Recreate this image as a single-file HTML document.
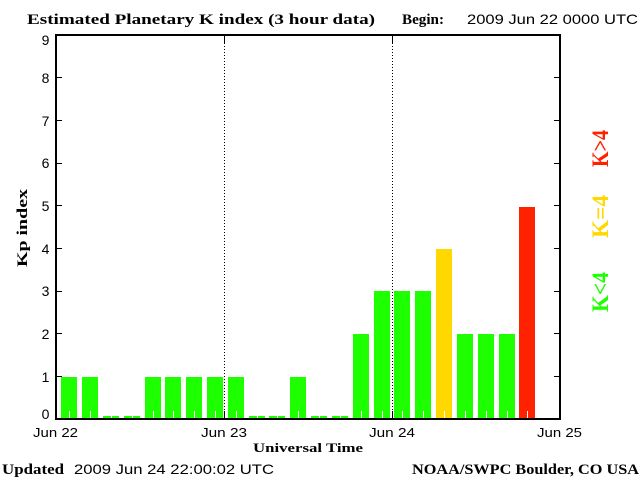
<!DOCTYPE html>
<html><head><meta charset="utf-8"><style>
html,body{margin:0;padding:0;background:#fff;}
svg{display:block;}
.serif{font-family:"Liberation Serif",serif;font-weight:bold;}
.sans{font-family:"Liberation Sans",sans-serif;}
</style></head><body>
<svg width="640" height="480" viewBox="0 0 640 480" xmlns="http://www.w3.org/2000/svg">
<rect x="0" y="0" width="640" height="480" fill="#fff"/>
<!-- header -->
<text class="serif" x="27" y="24" font-size="15" textLength="348" lengthAdjust="spacingAndGlyphs">Estimated Planetary K index (3 hour data)</text>
<text class="serif" x="402" y="24" font-size="15" textLength="42" lengthAdjust="spacingAndGlyphs">Begin:</text>
<text class="sans" x="467" y="24" font-size="14" textLength="171" lengthAdjust="spacingAndGlyphs">2009 Jun 22 0000 UTC</text>

<!-- bars -->
<g shape-rendering="crispEdges">
<rect x="61" y="377" width="16" height="41" fill="#1eff00"/>
<rect x="82" y="377" width="16" height="41" fill="#1eff00"/>
<rect x="103" y="416" width="16" height="2" fill="#1eff00"/>
<rect x="124" y="416" width="16" height="2" fill="#1eff00"/>
<rect x="145" y="377" width="16" height="41" fill="#1eff00"/>
<rect x="165" y="377" width="16" height="41" fill="#1eff00"/>
<rect x="186" y="377" width="16" height="41" fill="#1eff00"/>
<rect x="207" y="377" width="16" height="41" fill="#1eff00"/>
<rect x="228" y="377" width="16" height="41" fill="#1eff00"/>
<rect x="249" y="416" width="16" height="2" fill="#1eff00"/>
<rect x="269" y="416" width="16" height="2" fill="#1eff00"/>
<rect x="290" y="377" width="16" height="41" fill="#1eff00"/>
<rect x="311" y="416" width="16" height="2" fill="#1eff00"/>
<rect x="332" y="416" width="16" height="2" fill="#1eff00"/>
<rect x="353" y="334" width="16" height="84" fill="#1eff00"/>
<rect x="374" y="291" width="16" height="127" fill="#1eff00"/>
<rect x="394" y="291" width="16" height="127" fill="#1eff00"/>
<rect x="415" y="291" width="16" height="127" fill="#1eff00"/>
<rect x="436" y="249" width="16" height="169" fill="#ffd800"/>
<rect x="457" y="334" width="16" height="84" fill="#1eff00"/>
<rect x="478" y="334" width="16" height="84" fill="#1eff00"/>
<rect x="499" y="334" width="16" height="84" fill="#1eff00"/>
<rect x="519" y="207" width="16" height="211" fill="#ff2200"/>
</g>
<!-- white ticks inside bars -->
<g fill="#fff" shape-rendering="crispEdges">
<rect x="69" y="411" width="1" height="7"/>
<rect x="90" y="411" width="1" height="7"/>
<rect x="111" y="411" width="1" height="7"/>
<rect x="132" y="411" width="1" height="7"/>
<rect x="153" y="411" width="1" height="7"/>
<rect x="173" y="411" width="1" height="7"/>
<rect x="194" y="411" width="1" height="7"/>
<rect x="215" y="411" width="1" height="7"/>
<rect x="236" y="411" width="1" height="7"/>
<rect x="257" y="411" width="1" height="7"/>
<rect x="277" y="411" width="1" height="7"/>
<rect x="298" y="411" width="1" height="7"/>
<rect x="319" y="411" width="1" height="7"/>
<rect x="340" y="411" width="1" height="7"/>
<rect x="361" y="411" width="1" height="7"/>
<rect x="382" y="411" width="1" height="7"/>
<rect x="402" y="411" width="1" height="7"/>
<rect x="423" y="411" width="1" height="7"/>
<rect x="444" y="411" width="1" height="7"/>
<rect x="465" y="411" width="1" height="7"/>
<rect x="486" y="411" width="1" height="7"/>
<rect x="507" y="411" width="1" height="7"/>
<rect x="527" y="411" width="1" height="7"/>
</g>

<!-- dotted day lines -->
<g stroke="#000" stroke-width="1" shape-rendering="crispEdges">
<line x1="224.5" y1="43" x2="224.5" y2="411" stroke-dasharray="1,2"/>
<line x1="392.5" y1="43" x2="392.5" y2="411" stroke-dasharray="1,2"/>
<line x1="224.5" y1="35" x2="224.5" y2="43"/>
<line x1="224.5" y1="411" x2="224.5" y2="419"/>
<line x1="392.5" y1="35" x2="392.5" y2="43"/>
<line x1="392.5" y1="411" x2="392.5" y2="419"/>
</g>

<!-- axes -->
<g fill="#000" shape-rendering="crispEdges">
<rect x="55" y="34" width="2" height="386"/>
<rect x="559" y="34" width="2" height="386"/>
<rect x="55" y="34" width="506" height="2"/>
<rect x="55" y="418" width="506" height="2"/>
<!-- y ticks left -->
<rect x="57" y="77" width="5" height="1"/>
<rect x="57" y="120" width="5" height="1"/>
<rect x="57" y="163" width="5" height="1"/>
<rect x="57" y="205" width="5" height="1"/>
<rect x="57" y="248" width="5" height="1"/>
<rect x="57" y="291" width="5" height="1"/>
<rect x="57" y="333" width="5" height="1"/>
<rect x="57" y="376" width="5" height="1"/>
<!-- y ticks right -->
<rect x="554" y="77" width="5" height="1"/>
<rect x="554" y="120" width="5" height="1"/>
<rect x="554" y="163" width="5" height="1"/>
<rect x="554" y="205" width="5" height="1"/>
<rect x="554" y="248" width="5" height="1"/>
<rect x="554" y="291" width="5" height="1"/>
<rect x="554" y="333" width="5" height="1"/>
<rect x="554" y="376" width="5" height="1"/>
</g>

<!-- y labels -->
<g class="sans" font-size="14" text-anchor="middle">
<text x="45.5" y="45">9</text>
<text x="45.5" y="83">8</text>
<text x="45.5" y="126">7</text>
<text x="45.5" y="168">6</text>
<text x="45.5" y="211">5</text>
<text x="45.5" y="254">4</text>
<text x="45.5" y="296">3</text>
<text x="45.5" y="339">2</text>
<text x="45.5" y="382">1</text>
<text x="45.5" y="419">0</text>
</g>
<text class="serif" font-size="15" transform="translate(27,267) rotate(-90)" x="0" y="0" textLength="78" lengthAdjust="spacingAndGlyphs">Kp index</text>

<!-- x labels -->
<g class="sans" font-size="13">
<text x="33" y="437" textLength="45" lengthAdjust="spacingAndGlyphs">Jun 22</text>
<text x="201" y="437" textLength="46" lengthAdjust="spacingAndGlyphs">Jun 23</text>
<text x="369" y="437" textLength="46" lengthAdjust="spacingAndGlyphs">Jun 24</text>
<text x="537" y="437" textLength="45" lengthAdjust="spacingAndGlyphs">Jun 25</text>
</g>
<text class="serif" x="253" y="452" font-size="13" textLength="110" lengthAdjust="spacingAndGlyphs">Universal Time</text>

<!-- legend -->
<text class="serif" font-size="23" fill="#ff2200" transform="translate(608,167) rotate(-90)" textLength="37" lengthAdjust="spacingAndGlyphs">K&gt;4</text>
<text class="serif" font-size="23" fill="#ffd800" transform="translate(608,238) rotate(-90)" textLength="43" lengthAdjust="spacingAndGlyphs">K=4</text>
<text class="serif" font-size="23" fill="#1eff00" transform="translate(608,312) rotate(-90)" textLength="40" lengthAdjust="spacingAndGlyphs">K&lt;4</text>

<!-- footer -->
<text class="serif" x="2" y="474" font-size="15" textLength="62" lengthAdjust="spacingAndGlyphs">Updated</text>
<text class="sans" x="74" y="474" font-size="14" textLength="200" lengthAdjust="spacingAndGlyphs">2009 Jun 24 22:00:02 UTC</text>
<text class="serif" x="412" y="474" font-size="15" textLength="227" lengthAdjust="spacingAndGlyphs">NOAA/SWPC Boulder, CO USA</text>
</svg>
</body></html>
